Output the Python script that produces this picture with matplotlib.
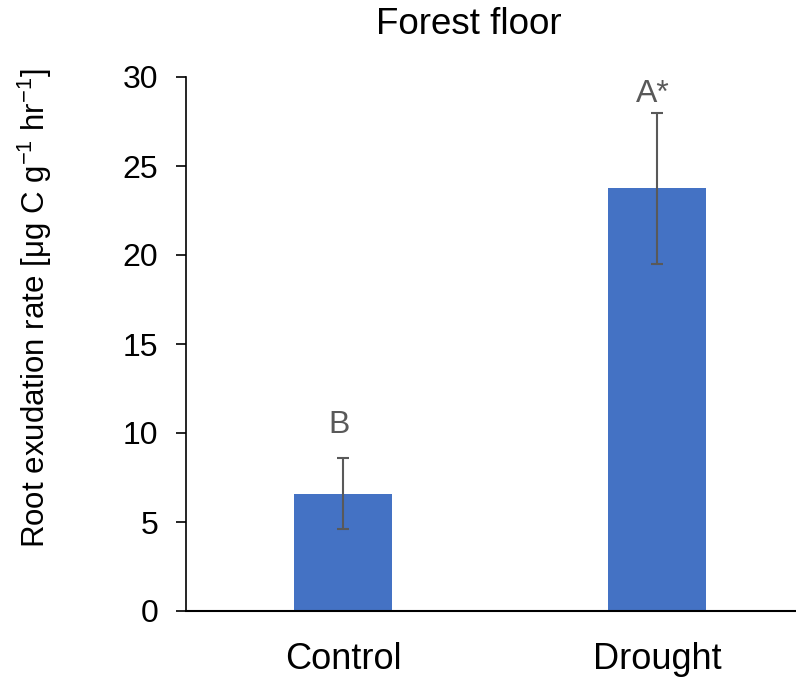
import matplotlib
matplotlib.use("Agg")
import matplotlib.pyplot as plt

# data
categories = ["Control", "Drought"]
means = [6.6, 23.75]
errors = [2.0, 4.25]
letters = ["B", "A*"]
letter_y = [10.0, 28.6]  # baseline of the significance letters, in data units

plt.rcParams['font.family'] = ['Liberation Sans', 'DejaVu Sans']
plt.rcParams['mathtext.fontset'] = 'custom'
plt.rcParams['mathtext.rm'] = 'Liberation Sans'
plt.rcParams['mathtext.it'] = 'Liberation Sans'

W, H = 796, 677
fig = plt.figure(figsize=(W / 100, H / 100), dpi=100)
ax = fig.add_axes([186 / W, (H - 611) / H, (796 - 186) / W, (611 - 77) / H])

x = list(range(len(categories)))
ax.bar(x, means, width=0.312, color='#4472C4', zorder=2)
ax.errorbar(x, means, yerr=errors, fmt='none', ecolor='#595959',
            elinewidth=1.5, capsize=4.3, capthick=1.5, zorder=3)

for xi, ly, lab in zip(x, letter_y, letters):
    ax.text(xi - 0.012, ly, lab, ha='center', va='baseline',
            fontsize=23, color='#595959')

ax.set_xlim(-0.5, -0.5 + (796 - 186) / 314)
ax.set_ylim(0, 30)
ax.set_yticks([0, 5, 10, 15, 20, 25, 30])
ax.set_xticks(x)
ax.set_xticklabels(categories)

ax.spines['top'].set_visible(False)
ax.spines['right'].set_visible(False)
ax.spines['left'].set_linewidth(1.2)
ax.spines['bottom'].set_linewidth(1.5)
ax.tick_params(axis='y', direction='out', length=7, width=1.2, labelsize=23, pad=13)
ax.tick_params(axis='x', length=0, labelsize=26, pad=22)

fig.text(35 / W, 1 - 308 / H, r'Root exudation rate [μg C g$^{-1}$ hr$^{-1}$]',
         rotation=90, ha='center', va='center', fontsize=22.5)
fig.text(469 / W, 1 - 24 / H, 'Forest floor', ha='center', va='center', fontsize=26.5)

fig.savefig('out.png', dpi=100)
